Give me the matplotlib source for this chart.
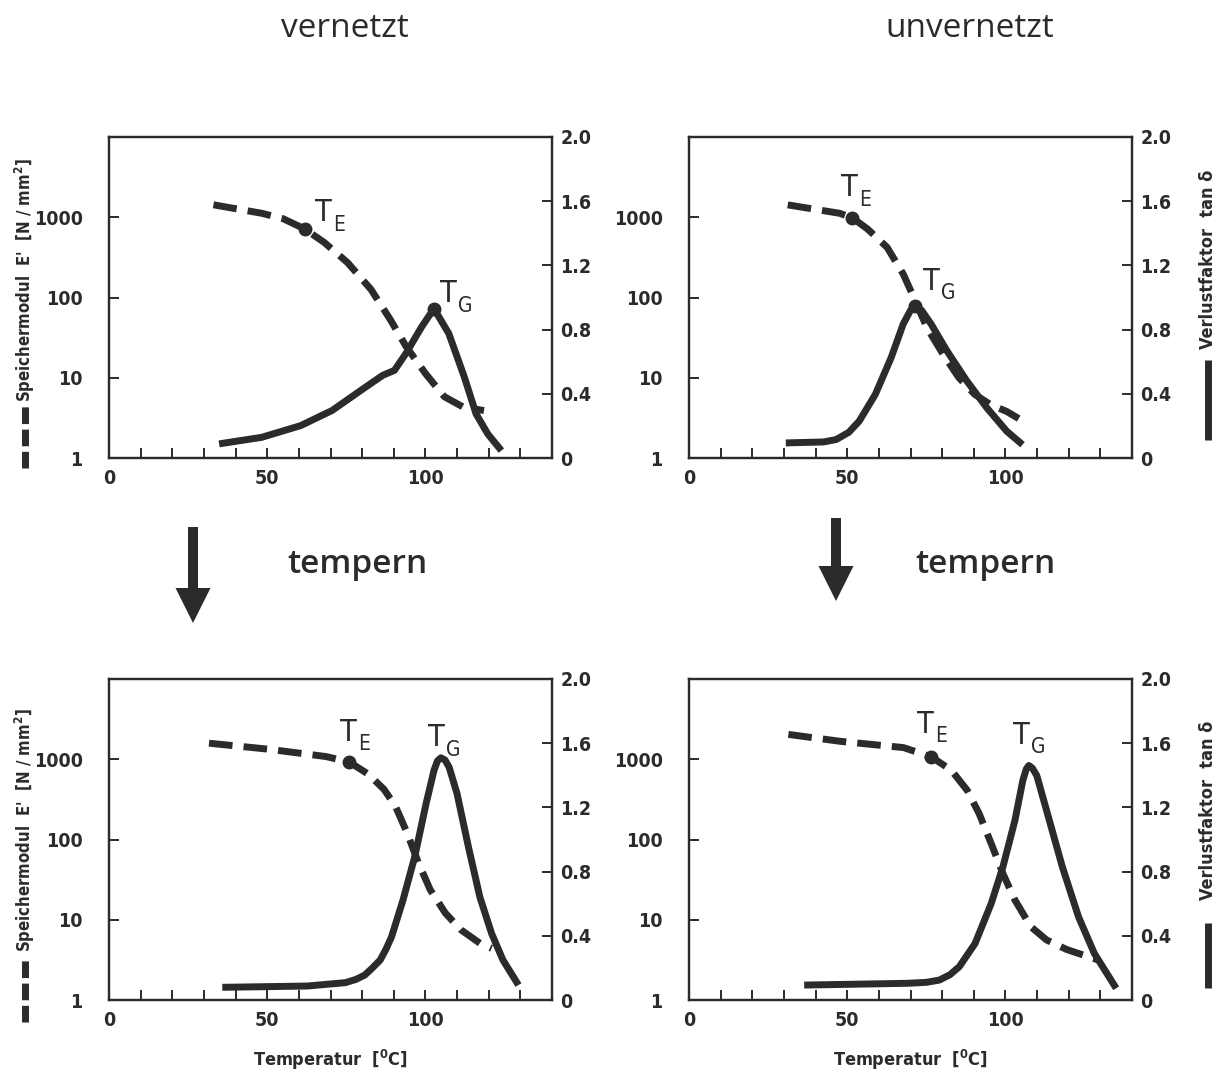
#
# Speichermodul / Verlustfaktor, vernetzt vs. unvernetzt, vor und nach dem Tempern
#
import matplotlib.pyplot as plt
from matplotlib.patches import FancyArrow
from matplotlib.ticker import NullLocator

plt.rcParams['font.family'] = ['DejaVu Sans']
plt.rcParams['font.stretch'] = 'condensed'
plt.rcParams['mathtext.fontset'] = 'custom'
plt.rcParams['mathtext.rm'] = 'DejaVu Sans:stretch=condensed:bold'

# --- data -------------------------------------------------------------------
# vernetzt, ungetempert
vn_e_temp = [33, 48.3, 55, 61.9, 68, 75.4, 82.8, 88.9, 93.9, 100, 106, 112, 118.5]
vn_e_mod = [1430, 1120, 960, 713, 486, 272, 126, 53, 24.5, 11.3, 5.8, 4.3, 3.9]
vn_tan_temp = [34.8, 48.3, 60.6, 70.5, 80.3, 86.5, 90.2, 93.8, 98.8, 102.7, 107.4, 112.3, 116, 119.7, 124]
vn_tan = [0.088, 0.129, 0.202, 0.296, 0.431, 0.515, 0.546, 0.65, 0.817, 0.931, 0.775, 0.504, 0.275, 0.15, 0.046]
vn_te = (61.9, 713)
vn_tg = (102.7, 0.931)

# unvernetzt, ungetempert
un_e_temp = [31.2, 47.6, 51.6, 56.4, 62.6, 67.7, 71.5, 75.2, 80.3, 85.3, 90.3, 95.4, 100.4, 104.2]
un_e_mod = [1427, 1120, 985, 715, 422, 196, 91, 42, 19.6, 10, 6.2, 4.6, 3.8, 3.1]
un_tan_temp = [30.6, 42.5, 46.5, 50.5, 53.8, 58.9, 63.9, 67.7, 70, 71.5, 73.5, 76.5, 81.5, 87.8,
               94.1, 100.4, 105.4]
un_tan = [0.094, 0.10, 0.115, 0.16, 0.23, 0.397, 0.626, 0.835, 0.92, 0.95, 0.92, 0.835, 0.668, 0.48,
          0.313, 0.167, 0.083]
un_te = (51.6, 985)
un_tg = (71.5, 0.95)

# vernetzt, getempert
vt_e_temp = [31.6, 50.4, 68.6, 75.9, 82, 86.9, 90.5, 94.2, 97.8, 101.5, 106.3, 111.2, 117.2, 120.9]
vt_e_mod = [1585, 1334, 1080, 926, 650, 422, 261, 121, 51, 23.7, 12.1, 7.5, 5.1, 4.4]
vt_tan_temp = [35.8, 62.6, 74.7, 78, 80.8, 83, 85.7, 87.5, 89.3, 92.9, 96.6, 100.2, 102.7, 103.8,
               104.9, 106.2, 107.5, 110, 113.6, 117.2, 120.9, 124.5, 129.4]
vt_tan = [0.079, 0.087, 0.108, 0.128, 0.155, 0.195, 0.249, 0.315, 0.394, 0.622, 0.891, 1.223, 1.43,
          1.49, 1.509, 1.495, 1.45, 1.285, 0.953, 0.642, 0.415, 0.249, 0.093]
vt_te = (75.9, 926)

# unvernetzt, getempert
ut_e_temp = [31.4, 47.7, 67.8, 76.6, 82.9, 87.9, 91.7, 95.5, 99.2, 103, 108, 113, 119.3, 123.1, 129.4]
ut_e_mod = [2040, 1675, 1397, 1070, 730, 411, 210, 89, 37.7, 17.6, 8.2, 5.6, 4.27, 3.8, 3.15]
ut_tan_temp = [36.4, 69, 75, 79.1, 82.5, 85.4, 90.4, 95.5, 99.2, 103, 105.5, 106.6, 107.4, 108.5,
               109.9, 113, 118, 123.1, 128.1, 135]
ut_tan = [0.093, 0.104, 0.11, 0.124, 0.158, 0.207, 0.352, 0.601, 0.829, 1.119, 1.368, 1.44, 1.461,
          1.445, 1.399, 1.181, 0.829, 0.518, 0.29, 0.073]
ut_te = (76.6, 1070)

# label anchors (temperature, E') for T_E and T_G
vn_lbl = [(65.0, 900), (104.5, 88)]
un_lbl = [(48.0, 1850), (74.0, 125)]
vt_lbl = [(73.0, 1700), (100.8, 1470)]
ut_lbl = [(72.2, 2150), (102.4, 1560)]

x_ticks = list(range(0, 140, 10))
x_labels = ['0' if t == 0 else '50' if t == 50 else '100' if t == 100 else '' for t in x_ticks]
e_ticks = [1, 10, 100, 1000]
e_labels = ['1', '10', '100', '1000']
tan_ticks = [0, 0.4, 0.8, 1.2, 1.6, 2.0]
tan_labels = ['0', '0.4', '0.8', '1.2', '1.6', '2.0']

ink = '#2b2b2b'
W, H = 1224, 1079
fig = plt.figure(figsize=(W / 100, H / 100), dpi=100)

# full-figure overlay in pixel units for titles, arrows and axis legends
ov = fig.add_axes([0, 0, 1, 1])
ov.set_xlim(0, W)
ov.set_ylim(H, 0)
ov.set_axis_off()


def box(l, t, r, b):
    return [l / W, 1 - b / H, (r - l) / W, (b - t) / H]


def panel(pos, e_temp, e_mod, tan_temp, tan, te, tg, lbl, xlabel=False):
    ax = fig.add_axes(pos)
    ax.set_yscale('log')
    ax.set_xlim(0, 140)
    ax.set_ylim(1, 1e4)
    ax2 = ax.twinx()
    ax2.set_ylim(0, 2.0)

    ax.plot(e_temp, e_mod, color=ink, lw=5, dashes=(3.4, 1.6), dash_joinstyle='round')
    ax2.plot(tan_temp, tan, color=ink, lw=5, solid_joinstyle='round', solid_capstyle='butt')
    ax.plot([te[0]], [te[1]], 'o', ms=9, color=ink)
    if tg is not None:
        ax2.plot([tg[0]], [tg[1]], 'o', ms=9, color=ink)

    for (tx, ty), sub in zip(lbl, ['E', 'G']):
        ax.text(tx, ty, 'T', fontsize=22, color=ink, ha='left', va='baseline')
        ax.annotate(sub, (tx, ty), xytext=(13, -7), textcoords='offset points',
                    fontsize=15, color=ink, ha='left', va='baseline')

    ax.set_xticks(x_ticks)
    ax.set_xticklabels(x_labels)
    ax.set_yticks(e_ticks)
    ax.set_yticklabels(e_labels)
    ax.yaxis.set_minor_locator(NullLocator())
    ax.tick_params(axis='x', direction='in', length=7, width=1.4, pad=8, labelsize=14,
                   colors=ink, top=False)
    ax.tick_params(axis='y', direction='in', length=7, width=1.4, pad=19, labelsize=14, colors=ink)
    ax2.set_yticks(tan_ticks)
    ax2.set_yticklabels(tan_labels)
    ax2.tick_params(axis='y', direction='in', length=7, width=1.4, pad=6, labelsize=14, colors=ink)
    for a in (ax, ax2):
        for s in a.spines.values():
            s.set_linewidth(1.6)
            s.set_color(ink)
        for lab in a.get_xticklabels() + a.get_yticklabels():
            lab.set_fontweight('bold')
    if xlabel:
        ax.set_xlabel('Temperatur  [$^\\mathregular{0}$C]', fontsize=13, fontweight='bold',
                      color=ink, labelpad=13)
    return ax


panel(box(109, 137, 552, 458), vn_e_temp, vn_e_mod, vn_tan_temp, vn_tan, vn_te, vn_tg, vn_lbl)
panel(box(689, 137, 1132, 458), un_e_temp, un_e_mod, un_tan_temp, un_tan, un_te, un_tg, un_lbl)
panel(box(109, 679, 552, 1000), vt_e_temp, vt_e_mod, vt_tan_temp, vt_tan, vt_te, None, vt_lbl, True)
panel(box(689, 679, 1132, 1000), ut_e_temp, ut_e_mod, ut_tan_temp, ut_tan, ut_te, None, ut_lbl, True)

# titles
title_kw = dict(family=['Open Sans', 'DejaVu Sans'], fontstretch='normal', fontsize=24, color=ink,
                ha='center', va='baseline')
ov.text(345, 37, 'vernetzt', fontweight='medium', **title_kw)
ov.text(970, 37, 'unvernetzt', fontweight='medium', **title_kw)
ov.text(358, 573, 'tempern', fontweight='semibold', **title_kw)
ov.text(986, 573, 'tempern', fontweight='semibold', **title_kw)

# arrows
ov.add_patch(FancyArrow(193, 527, 0, 96, width=10, head_width=35, head_length=35,
                        length_includes_head=True, color=ink, lw=0))
ov.add_patch(FancyArrow(836, 518, 0, 83, width=10, head_width=35, head_length=35,
                        length_includes_head=True, color=ink, lw=0))

# axis legends (rotated labels with line sample)
ylab_e = "Speichermodul  E'  [N / mm$^\\mathregular{2}$]"
ylab_tan = 'Verlustfaktor  tan \u03b4'
for yc, y0, y1 in [(280, 468, 406), (830, 1022, 960)]:
    ov.text(25, yc, ylab_e, rotation=90, fontsize=12, fontweight='bold', color=ink,
            ha='center', va='center')
    ov.plot([25, 25], [y0, y1], color=ink, lw=5, dashes=(2.4, 0.8))
for yc, y0, y1 in [(259, 440, 360), (810, 988, 923)]:
    ov.text(1208, yc, ylab_tan, rotation=90, fontsize=13, fontweight='bold', color=ink,
            ha='center', va='center')
    ov.plot([1208, 1208], [y0, y1], color=ink, lw=5, solid_capstyle='butt')

fig.savefig('out.png', dpi=100)
